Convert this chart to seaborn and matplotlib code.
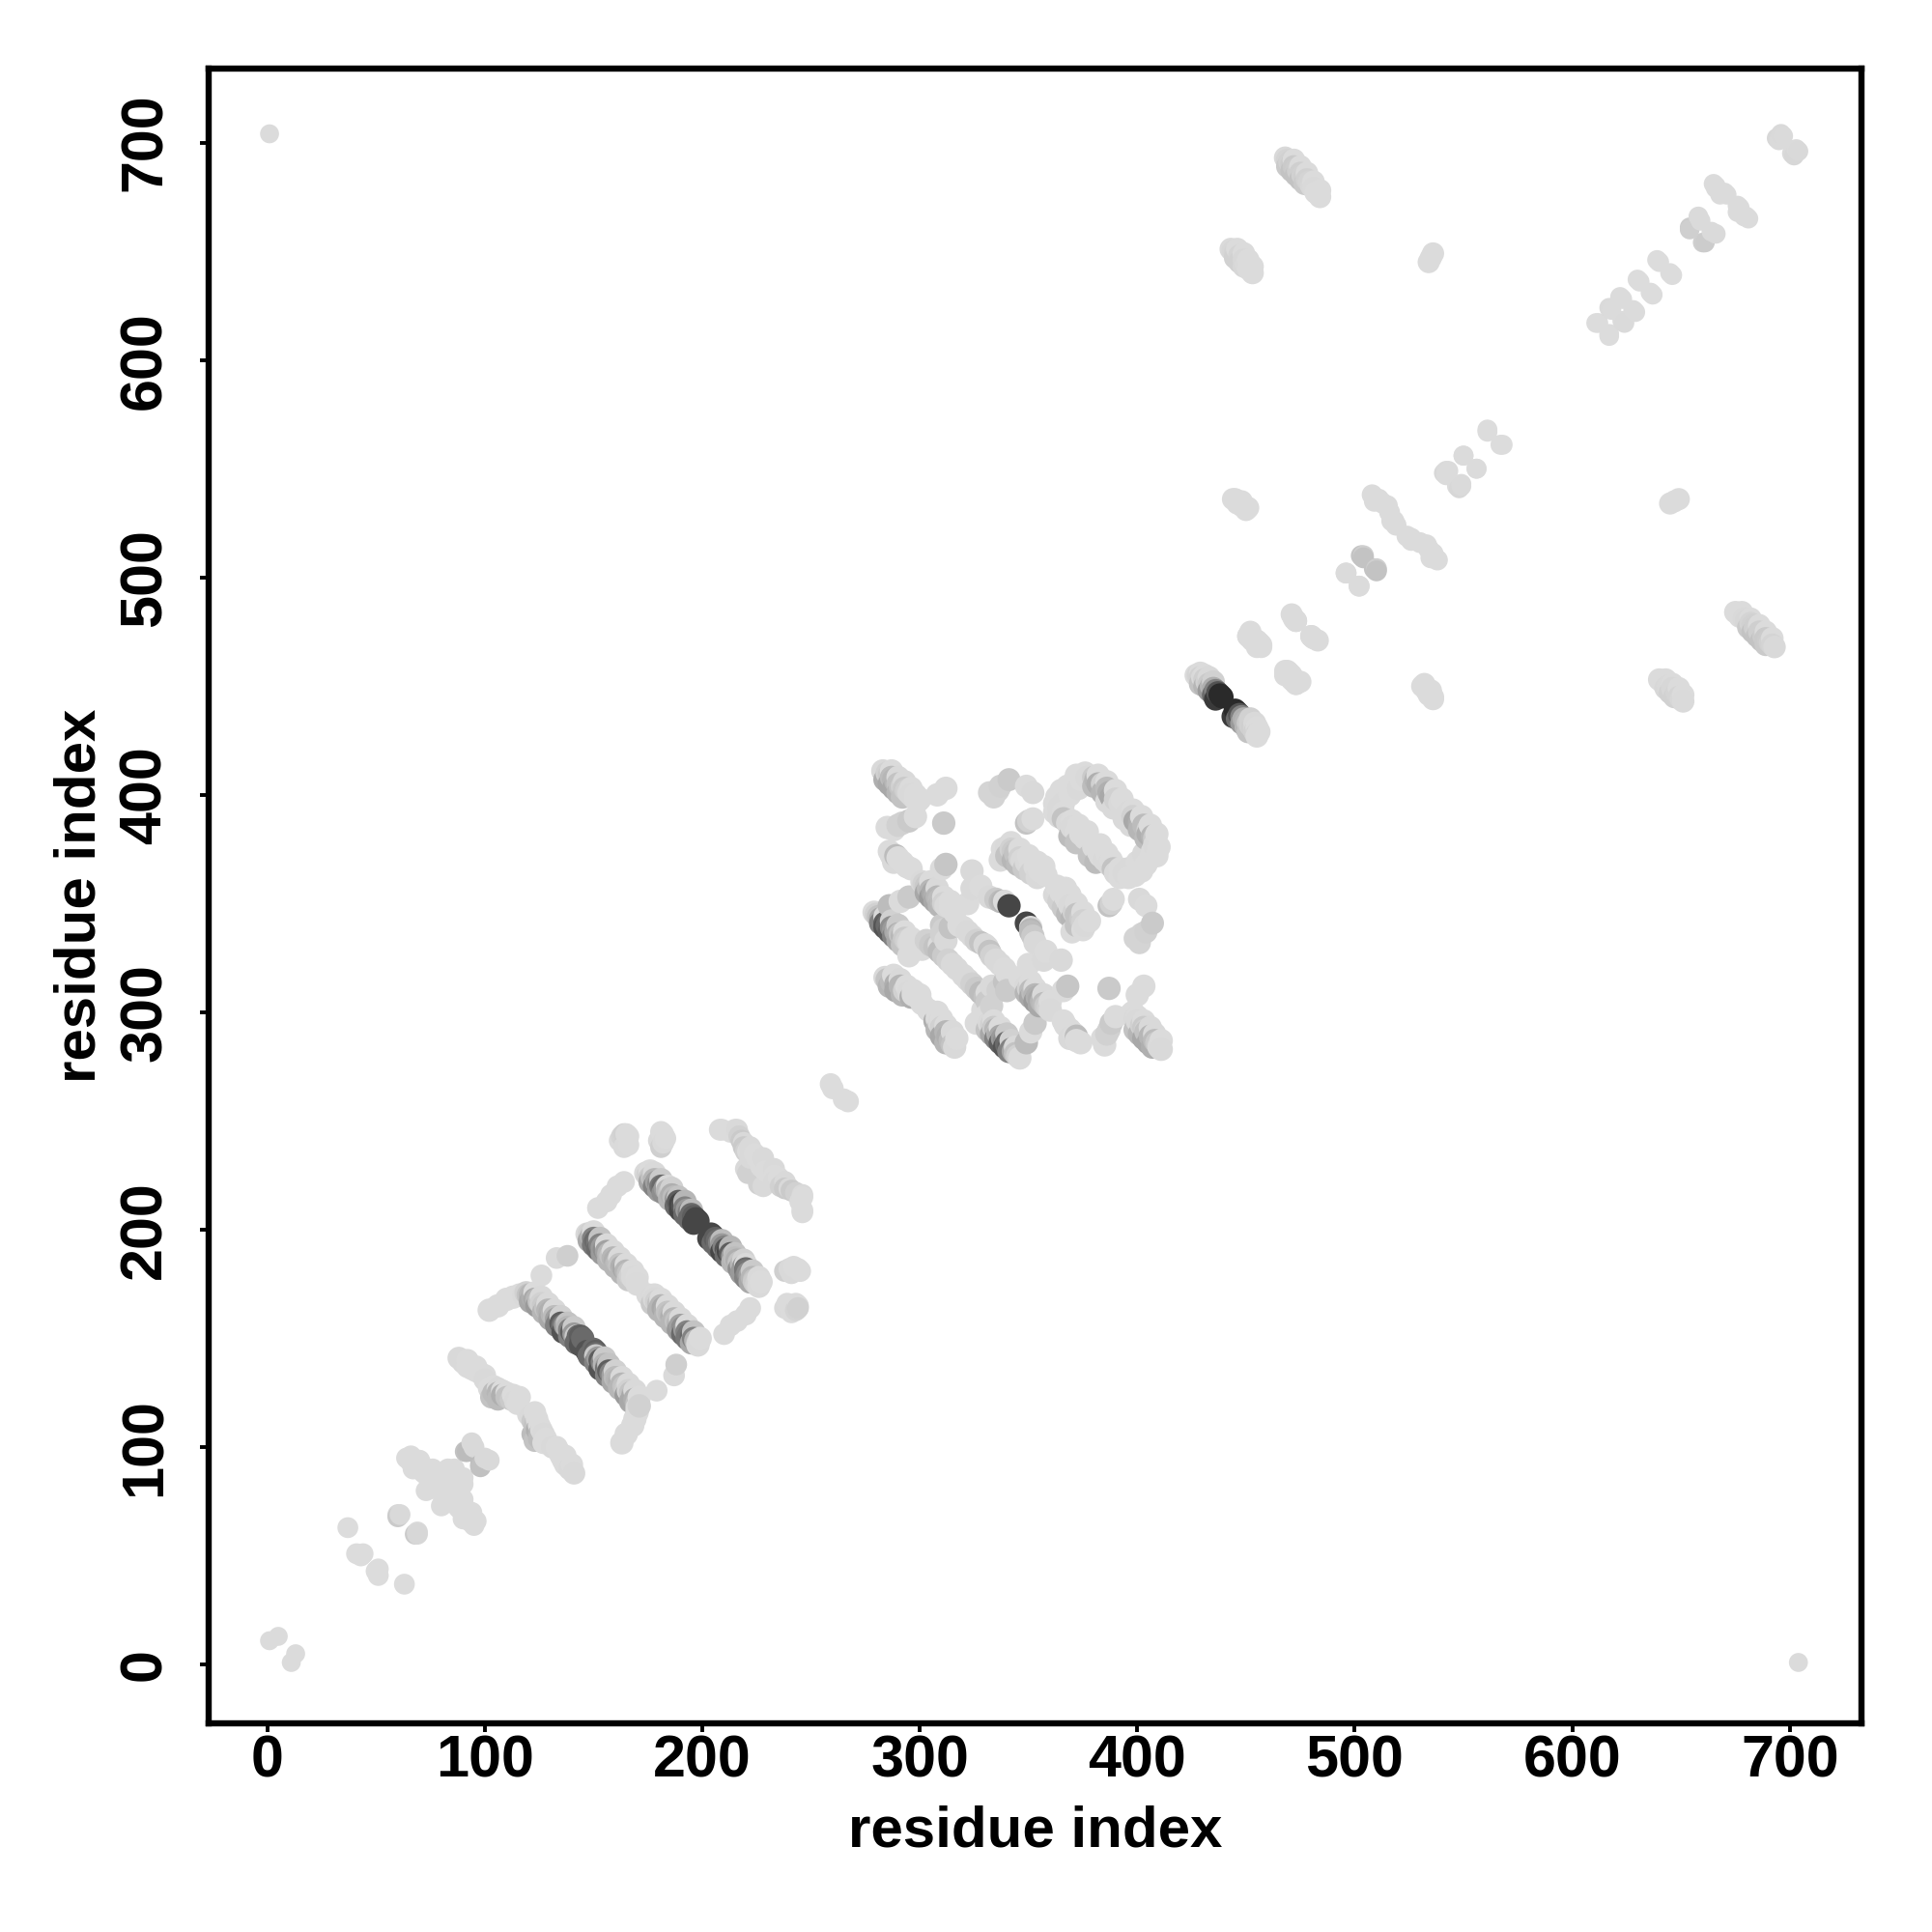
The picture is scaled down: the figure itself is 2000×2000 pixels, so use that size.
import matplotlib
matplotlib.use("Agg")
import matplotlib.pyplot as plt
from matplotlib.colors import LinearSegmentedColormap
import pandas as pd
import seaborn as sns

# contacts as (residue i, residue j, strength); the map is symmetric
termini = [(1,11,.03),(5,13,.03),(1,704,.03)]
nterm_a = [(37,63,.02),(41,51,.02),(43,50,.02),(44,51,.02),(60,69,.06),(60,68,.15),(61,69,.05),
           (64,95,.03),(66,93,.03),(68,91,.03),(69,90,.03),(71,92,.03),(73,80,.03),(74,81,.03),
           (78,85,.03),(80,87,.03),(83,90,.03),(92,98,.25),(94,102,.05),(91,98,.22),(95,100,.05),
           (66,96,.03),(67,90,.03),(70,94,.03),(72,88,.03),(74,86,.03),(76,90,.03),(75,83,.03),(77,81,.03),
           (82,88,.03),(80,84,.03),(86,90,.03)]
sheet_d = [(88,141,.05),(90,139,.05),(92,137,.03),(94,136,.03),(96,135,.03),(98,134,.03),(100,131,.05),
           (102,127,.03),(104,125,.25),(106,125,.3),(108,124,.35),(110,123,.2),(112,122,.15),(114,121,.05),(115,120,.03),
           (104,128,.03),(106,127,.05),(108,126,.03),(103,123,.2),(106,122,.25),(110,125,.03),(113,124,.03),(116,123,.03),
           (92,140,.03),(96,137,.03),(100,133,.03)]
sheet_c = [(102,163,.03),(106,165,.03),(110,168,.03),(113,169,.03),(116,170,.03),(118,170,.05),(119,171,.1),
           (120,170,.2),(121,170,.3),(122,169,.35),(123,168,.4),(124,168,.3),(125,167,.2),(126,166,.1),(127,165,.15),
           (128,164,.2),(129,163,.3),(130,162,.35),(131,161,.3),(132,160,.25),(133,159,.45),(134,158,.6),(135,157,.75),
           (136,156,.65),(137,156,.5),(138,155,.3),(139,154,.6),(140,153,.75),(141,152,.5),(142,151,.15),(143,151,.7),
           (144,151,.75),(145,150,.7)]
sheet_c_edge = [(121,167,.4),(124,165,.5),(127,162,.3),(130,159,.4),(133,156,.6),(136,153,.8),(139,151,.6),(142,148,.7),(144,147,.8),
                (123,171,.03),(126,169,.05),(129,166,.05),(132,163,.05),(135,160,.1),(138,157,.2),(141,155,.15)]
sheet_b = [(147,198,.05),(148,198,.1),(149,197,.3),(150,196,.6),(151,195,.7),(152,194,.65),(153,193,.6),(154,192,.5),
           (155,191,.55),(156,190,.45),(157,189,.3),(158,188,.2),(159,187,.3),(160,186,.35),(161,185,.25),(162,184,.2),
           (163,183,.35),(164,182,.4),(165,181,.3),(166,180,.2),(167,179,.1),(168,178,.05),(169,177,.05),(170,175,.04)]
sheet_b_edge = [(148,195,.4),(150,193,.65),(152,191,.7),(154,189,.5),(157,186,.3),(160,183,.3),(163,180,.3),(166,177,.15),
                (150,199,.03),(153,196,.2),(156,193,.05),(159,190,.05),(162,187,.05),(165,184,.04),(168,181,.03),(170,178,.03)]
sheet_a = [(174,226,.05),(175,225,.1),(176,224,.15),(177,224,.2),(178,223,.3),(179,222,.45),(180,221,.55),(181,220,.65),
           (182,220,.7),(183,219,.5),(184,218,.3),(185,217,.2),(186,216,.35),(187,215,.25),(188,214,.5),(189,213,.75),
           (190,212,.85),(191,211,.8),(192,210,.6),(193,209,.5),(194,208,.6),(195,207,.7),(196,206,.75),(197,205,.85),(198,204,.85)]
sheet_a_edge = [(176,222,.4),(178,220,.6),(180,218,.5),(182,217,.55),(185,214,.3),(188,211,.7),(190,209,.85),(192,207,.7),(194,205,.7),(196,203,.85),
                (176,227,.03),(178,226,.05),(181,223,.15),(184,220,.05),(186,219,.1),(189,215,.2),(192,213,.3),(195,209,.25)]
side_a = [(126,179,.03),(133,187,.04),(138,188,.12),(152,210,.03),(156,213,.03),(158,216,.03),(161,220,.03),(164,222,.03),
          (164,244,.1),(165,244,.03),(164,238,.04),(166,239,.03),(181,238,.12),(182,240,.05),(182,244,.03),
          (162,241,.03),(166,243,.03),(163,243,.08),(180,241,.05),(183,242,.03),(181,245,.03),
          (208,246,.03),(215,246,.03),(216,246,.05),(218,241,.15),(219,240,.05),(220,236,.1),(221,236,.03),(220,228,.05),
          (221,226,.1),(222,233,.05),(225,233,.03),(227,229,.03),(259,267,.02),(260,265,.02),
          (209,246,.03),(213,245,.03),(217,243,.1),(219,238,.15),(222,238,.05),(224,235,.03),(226,232,.03),(228,233,.05)]
core_a = [(283,411,.05),(284,410,.05),(285,410,.1),(286,409,.15),(287,408,.25),(288,407,.3),(289,406,.3),(290,405,.2),
          (291,404,.2),(292,404,.1),(293,403,.15),(294,402,.1),(295,401,.05),(296,400,.05),(297,399,.05),(298,398,.03),(299,397,.03),
          (284,407,.35),(286,405,.4),(288,403,.4),(290,401,.3),(292,399,.2),(287,411,.03),(290,408,.05),(293,406,.05),(296,403,.03),(298,400,.03),(300,398,.03)]
core_b = [(279,346,.03),(280,345,.1),(281,344,.2),(282,343,.4),(283,342,.6),(284,341,.75),(285,340,.7),(286,340,.7),
          (287,339,.55),(288,338,.5),(289,337,.4),(290,336,.35),(291,336,.2),(292,335,.3),(293,334,.15),(294,333,.1),
          (295,332,.05),(296,331,.03),(298,329,.03),(295,326,.03),(303,333,.1),(305,331,.15),(307,330,.2),(309,328,.25),
          (311,326,.15),(313,324,.1),(315,322,.05),(317,320,.05),(310,340,.15),(311,338,.1),
          (282,341,.6),(284,339,.8),(286,337,.75),(288,335,.6),(290,333,.4),(292,331,.2),(284,344,.05),(287,342,.1),(290,340,.15),
          (293,337,.03),(296,334,.03),(299,331,.03),(301,329,.03)]
core_c = [(284,316,.05),(285,315,.2),(287,314,.25),(289,313,.35),(291,312,.3),(293,310,.1),(295,309,.05),(296,307,.35),
          (297,308,.03),(299,307,.03),(301,304,.03),
          (286,312,.3),(289,310,.4),(292,308,.3),(288,317,.03),(291,315,.05),(294,312,.03),(297,310,.03),(300,308,.03)]
core_d = [(301,360,.05),(302,359,.1),(303,358,.15),(304,357,.25),(305,356,.3),(306,355,.4),(307,354,.35),(308,353,.3),
          (309,352,.25),(310,351,.25),(311,350,.1),(312,349,.05),(314,348,.03),(316,346,.03),
          (303,355,.4),(305,353,.5),(307,351,.4),(309,349,.3),(305,360,.03),(308,357,.05),(311,353,.03),(314,351,.03)]
core_e = [(318,340,.03),(320,339,.03),(322,337,.05),(324,335,.05),(326,333,.1),(328,332,.2),(330,331,.05),
          (309,331,.03),(310,336,.1),(312,333,.05),(314,339,.2)]
core_f = [(324,365,.05),(324,357,.05),(328,358,.03),(332,353,.05),(335,352,.15),(337,351,.25),(338,351,.3),(339,351,.03),(341,349,.85),(322,350,.03)]
core_g = [(332,401,.08),(334,399,.08),(336,402,.08),(337,404,.1),(341,407,.15),(349,404,.03),(352,401,.05),(349,387,.2),(350,388,.1),(352,389,.03)]
core_h = [(337,370,.03),(338,375,.03),(340,376,.05),(342,375,.1),(343,374,.15),(344,373,.2),(345,372,.2),(346,371,.1),
          (347,370,.05),(349,369,.05),(351,368,.03),(353,367,.03),(355,365,.03),(357,364,.03),(358,363,.03),
          (340,372,.2),(343,370,.3),(345,368,.25),(348,366,.15),(351,364,.1),(354,362,.05),(342,378,.03),(346,375,.03),(350,372,.03),(354,369,.03),(357,367,.03)]
ring_a = [(362,392,.03),(362,396,.03),(363,399,.03),(365,402,.03),(368,404,.03),(371,406,.03),(374,407,.03),(377,408,.05),
          (380,408,.15),(381,407,.3),(382,405,.35),(384,405,.1),(386,403,.25),(387,401,.35),(388,399,.4),(390,398,.1),(392,396,.05),
          (364,394,.05),(366,396,.05),(369,400,.03),(373,403,.05),(380,404,.25),(384,401,.3),(386,397,.05),(389,394,.05),
          (372,409,.03),(376,410,.03),(382,409,.03),(386,406,.03),(390,402,.03),(393,398,.03)]
ring_b = [(364,390,.05),(366,389,.2),(368,387,.05),(370,385,.05),(372,383,.03),(374,382,.03),(376,380,.03),
          (366,392,.03),(370,388,.03),(373,386,.03),(377,383,.03),(369,381,.25),(372,378,.2)]
core_j = [(285,385,.03),(288,384,.03),(290,386,.1),(292,387,.1),(295,388,.15),(298,390,.03),(286,374,.03),(287,372,.03),
          (288,369,.05),(289,372,.25),(290,371,.03),(292,369,.03),(294,367,.03),(296,366,.03),(308,400,.03),(312,403,.03),
          (311,387,.15),(310,366,.03),(312,368,.18),(286,349,.25),(291,351,.03),(295,353,.15)]
domain_b = [(427,455,.03),(428,455,.08),(429,454,.1),(430,454,.05),(431,453,.12),(432,452,.1),(433,451,.15),(434,450,.3),
            (435,449,.35),(436,448,.6),(437,447,.8),(438,446,.97),(439,445,.97),
            (429,451,.2),(431,450,.3),(433,448,.5),(435,446,.7),(436,444,.9),(429,456,.03),(431,455,.03),(433,454,.05),(435,452,.1)]
domain_c = [(451,473,.03),(453,471,.03),(455,468,.03),(469,456,.03),(471,453,.03),(473,451,.03),(472,481,.03),(480,473,.03),
            (446,534,.03),(448,533,.03),(450,531,.03),(533,448,.03),(535,446,.03),(535,647,.03),(534,645,.03),(536,649,.03),
            (444,536,.03),(445,536,.03),(448,535,.03),(451,532,.03),(471,483,.03),(473,480,.03),
            (452,475,.03),(455,471,.03),(457,469,.03),(468,457,.03),(470,456,.03),(472,452,.03)]
domain_d = [(496,502,.03),(502,496,.03),(503,510,.2),(504,510,.12),(509,504,.2),(508,538,.03),(509,535,.03),(511,536,.03),
            (513,534,.03),(515,533,.03),(516,530,.03),(517,526,.03),(524,519,.03),(526,518,.03)]
domain_e = [(542,549,.04),(541,548,.06),(547,542,.03),(549,543,.03),(550,556,.03),(556,550,.03),(561,568,.02),(567,561,.02)]
domain_f = [(443,651,.04),(444,650,.06),(445,649,.08),(447,648,.08),(449,646,.06),(450,644,.05),(451,642,.03),(453,640,.03),
            (445,647,.1),(447,645,.1),(449,643,.06),(446,651,.03),(449,649,.03),(451,646,.03),(453,643,.03)]
domain_g = [(468,693,.05),(469,692,.08),(470,691,.1),(471,690,.14),(472,689,.15),(473,688,.14),(474,687,.12),(475,686,.12),
            (476,685,.1),(477,684,.12),(478,683,.1),(479,682,.08),(480,680,.06),(481,679,.05),(482,677,.03),(484,675,.03),
            (469,689,.15),(471,687,.2),(473,685,.2),(475,683,.2),(477,681,.15),(472,692,.03),(475,689,.03),(478,686,.03),(481,682,.03),(484,678,.03)]
domain_h = [(611,617,.02),(617,612,.02),(617,624,.04),(622,629,.03),(623,618,.03),(628,623,.03),(630,637,.02),(636,631,.02),
            (639,646,.02),(645,640,.02),(654,661,.14),(658,666,.04),(660,654,.12),(664,659,.04),(665,681,.03),(666,680,.03),
            (668,676,.03),(676,671,.03),(677,670,.03),(679,666,.03),(694,702,.06),(696,704,.05),(701,695,.04),(703,697,.04)]

regions = [termini, nterm_a, sheet_d, sheet_c, sheet_c_edge, sheet_b, sheet_b_edge, sheet_a, sheet_a_edge, side_a,
           core_a, core_b, core_c, core_d, core_e, core_f, core_g, core_h, ring_a, ring_b, core_j,
           domain_b, domain_c, domain_d, domain_e, domain_f, domain_g, domain_h]
# relative dot size of each region, same order as regions
region_dot = [0, .4, .8, 1, 1, 1, 1, 1, 1, .6,
              1, 1, 1, 1, 1, 1, .9, 1, 1, 1, 1,
              .9, .7, .4, .2, .8, .8, .15]

tick_values = [0, 100, 200, 300, 400, 500, 600, 700]
axis_title = "residue index"

rows = []
for region, dot in zip(regions, region_dot):
    for i, j, w in region:
        rows.append((i, j, w, dot))
        rows.append((j, i, w, dot))
df = pd.DataFrame(rows, columns=["x", "y", "w", "dot"]).sort_values(["x", "y"], ascending=[True, False], kind="stable")

sns.set_theme(style="white")
plt.rcParams["font.family"] = ["Liberation Sans", "DejaVu Sans"]
plt.rcParams["font.weight"] = "bold"

fig = plt.figure(figsize=(10, 10), dpi=200, facecolor="white")
ax = fig.add_axes([216/2000, 1-1784/2000, (1927-216)/2000, (1784-71)/2000])
cmap = LinearSegmentedColormap.from_list("contact", ["#DFDFDF", "#9A9A9A", "#232323"])
sns.scatterplot(data=df, x="x", y="y", hue="w", hue_norm=(0, 1), palette=cmap,
                size="dot", size_norm=(0, 1), sizes=(50, 76), linewidth=0, legend=False, ax=ax)

ax.set_xlim(-27, 733)
ax.set_ylim(-27, 734)
ax.set_xticks(tick_values)
ax.set_yticks(tick_values)
ax.tick_params(axis="x", length=3.1, width=1.4, color="black", labelsize=22, labelcolor="black", pad=0.9, bottom=True)
ax.tick_params(axis="y", length=3.1, width=1.4, color="black", labelsize=22, labelcolor="black", pad=10, left=True)
for t in ax.get_yticklabels():
    t.set_rotation(90)
    t.set_va("center")
    t.set_fontweight("bold")
for t in ax.get_xticklabels():
    t.set_fontweight("bold")
for s in ax.spines.values():
    s.set_visible(True)
    s.set_color("black")
    s.set_linewidth(2.3)
ax.set_xlabel(axis_title, fontsize=21.6, fontweight="bold", color="black", labelpad=6)
ax.set_ylabel(axis_title, fontsize=21.6, fontweight="bold", color="black", labelpad=4.4)
fig.savefig("out.png", dpi=200, facecolor="white")
